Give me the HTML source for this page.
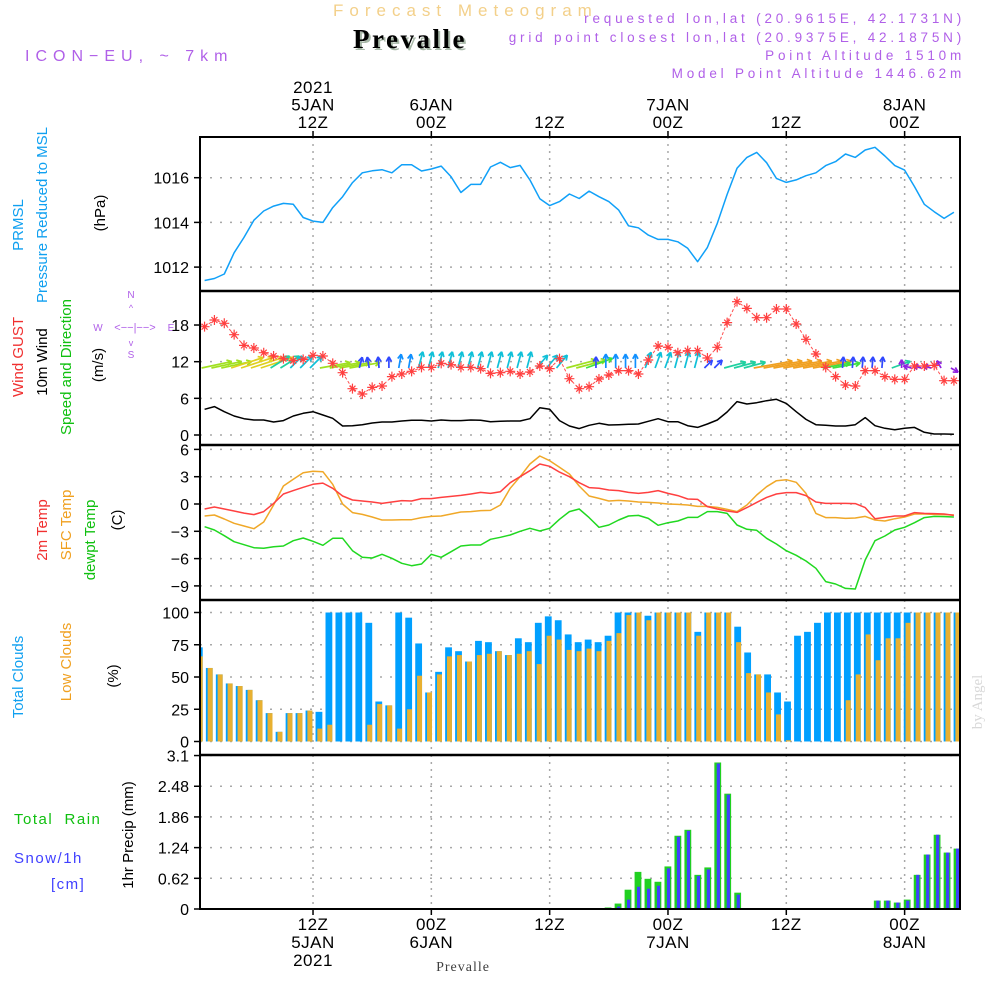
<!DOCTYPE html>
<html><head><meta charset="utf-8"><title>Forecast Meteogram Prevalle</title>
<style>
html,body{margin:0;padding:0;background:#fff;}
svg{display:block;font-family:"Liberation Sans",sans-serif;}
</style></head>
<body>
<svg id="chart" width="1000" height="1000" viewBox="0 0 1000 1000" xmlns="http://www.w3.org/2000/svg">
<defs>
<clipPath id="cp1"><rect x="200" y="137" width="760" height="154"/></clipPath>
<clipPath id="cp2"><rect x="200" y="291" width="760" height="154"/></clipPath>
<clipPath id="cp3"><rect x="200" y="445" width="760" height="155"/></clipPath>
<clipPath id="cp4"><rect x="200" y="600" width="760" height="155"/></clipPath>
<clipPath id="cp5"><rect x="200" y="755" width="760" height="154"/></clipPath>
</defs>
<rect x="0" y="0" width="1000" height="1000" fill="#fff"/>
<!-- header -->
<text x="333" y="16" font-size="17" fill="#f3d08a" letter-spacing="6">Forecast Meteogram</text>
<text x="355" y="50" font-size="27" font-weight="bold" font-family="Liberation Serif, serif" fill="#a8b8a8" letter-spacing="2.5">Prevalle</text>
<text x="353" y="48" font-size="27" font-weight="bold" font-family="Liberation Serif, serif" fill="#000" letter-spacing="2.5">Prevalle</text>
<text x="25" y="61" font-size="16" fill="#b060e8" letter-spacing="6">ICON−EU, ~ 7km</text>
<g font-size="13.5" fill="#b060e8" text-anchor="end" letter-spacing="3.8">
<text x="965" y="23">requested lon,lat (20.9615E, 42.1731N)</text>
<text x="965" y="42">grid point closest lon,lat (20.9375E, 42.1875N)</text>
<text x="965" y="60">Point Altitude 1510m</text>
<text x="965" y="78">Model Point Altitude 1446.62m</text>
</g>
<!-- left labels -->
<g font-size="15">
<text transform="translate(23,225) rotate(-90)" text-anchor="middle" fill="#10a0f0">PRMSL</text>
<text transform="translate(47,215) rotate(-90)" text-anchor="middle" fill="#10a0f0">Pressure Reduced to MSL</text>
<text transform="translate(105,213) rotate(-90)" text-anchor="middle" fill="#000">(hPa)</text>
<text transform="translate(23,357) rotate(-90)" text-anchor="middle" fill="#f03030">Wind GUST</text>
<text transform="translate(47,362) rotate(-90)" text-anchor="middle" fill="#000">10m Wind</text>
<text transform="translate(71,367) rotate(-90)" text-anchor="middle" fill="#10c010">Speed and Direction</text>
<text transform="translate(103,365) rotate(-90)" text-anchor="middle" fill="#000">(m/s)</text>
<text transform="translate(47,530) rotate(-90)" text-anchor="middle" fill="#f03030">2m Temp</text>
<text transform="translate(71,525) rotate(-90)" text-anchor="middle" fill="#f0a020">SFC Temp</text>
<text transform="translate(95,540) rotate(-90)" text-anchor="middle" fill="#10c010">dewpt Temp</text>
<text transform="translate(122,520) rotate(-90)" text-anchor="middle" fill="#000">(C)</text>
<text transform="translate(23,677) rotate(-90)" text-anchor="middle" fill="#10a0f0">Total Clouds</text>
<text transform="translate(71,662) rotate(-90)" text-anchor="middle" fill="#f0a020">Low Clouds</text>
<text transform="translate(118,676) rotate(-90)" text-anchor="middle" fill="#000">(%)</text>
<text transform="translate(133,835) rotate(-90)" text-anchor="middle" fill="#000">1hr Precip (mm)</text>
</g>
<text x="14" y="824" font-size="15" fill="#10c010" letter-spacing="1.5" xml:space="preserve">Total  Rain</text>
<text x="14" y="863" font-size="15" fill="#4040ff" letter-spacing="1.5">Snow/1h</text>
<text x="51" y="889" font-size="15" fill="#4040ff" letter-spacing="1.5">[cm]</text>
<!-- compass -->
<g fill="#b060e8" stroke="none" font-size="10">
<text x="131" y="298" text-anchor="middle">N</text>
<text x="131" y="358" text-anchor="middle">S</text>
<text x="98" y="331" text-anchor="middle">W</text>
<text x="171" y="331" text-anchor="middle">E</text>
<text x="135" y="331" text-anchor="middle" font-size="11">&lt;−−|−−&gt;</text>
<text x="131" y="311" text-anchor="middle" font-size="9">^</text>
<text x="131" y="346" text-anchor="middle" font-size="9">v</text>
</g>
<text transform="translate(982,702) rotate(-90)" text-anchor="middle" font-size="15" font-family="Liberation Serif, serif" fill="#d8d8d8">by Angel</text>
<text x="463" y="971" text-anchor="middle" font-size="14" font-family="Liberation Serif, serif" fill="#404040" letter-spacing="1">Prevalle</text>
<g id="layer"></g>
</svg>
<script>
// ---- data (hourly, index k = forecast hour 1..77) ----
const pressure = [1011.40,1011.49,1011.69,1012.64,1013.33,1014.10,1014.51,1014.73,1014.85,1014.81,1014.22,1014.06,1014.0,1014.66,1015.15,1015.78,1016.22,1016.31,1016.36,1016.22,1016.58,1016.58,1016.30,1016.39,1016.52,1016.04,1015.34,1015.70,1015.70,1016.48,1016.69,1016.45,1016.55,1015.90,1015.06,1014.75,1014.93,1015.27,1015.07,1015.40,
1015.15,1014.93,1014.55,1013.85,1013.76,1013.43,1013.24,1013.24,1013.13,1012.84,1012.24,1012.88,1013.96,1015.25,1016.42,1016.91,1017.13,1016.67,1015.97,1015.79,1015.90,1016.09,1016.22,1016.54,1016.72,1017.06,1016.91,1017.24,1017.36,1016.97,1016.54,1016.34,1015.60,1014.81,1014.48,1014.18,1014.45];
const wind10 = [4.2,4.64,3.82,3.11,2.67,2.45,2.45,2.13,2.35,3.11,3.55,3.82,3.27,2.73,1.47,1.53,1.69,1.96,2.13,2.13,2.29,2.4,2.4,2.29,2.45,2.35,2.35,2.45,2.4,2.18,2.24,2.29,2.29,2.67,4.47,4.2,2.35,1.47,1.04,1.58,
1.91,1.64,1.69,1.75,1.8,2.24,2.67,2.18,2.18,1.53,1.25,1.8,2.45,3.76,5.46,5.07,5.29,5.62,5.84,5.18,3.82,2.56,1.69,1.58,1.47,1.47,1.69,2.84,1.53,1.09,0.87,1.09,1.25,0.44,0.16,0.16,0.11];
const gust = [17.73,18.82,18.28,16.42,14.67,14.24,13.47,12.93,12.49,12.16,12.38,13.04,12.93,11.73,10.2,7.58,6.71,7.8,8.02,9.55,9.98,10.42,11.07,11.07,11.73,11.51,11.07,11.07,10.86,10.09,10.2,10.42,9.98,10.31,11.29,10.86,12.49,9.22,7.58,7.91,
9.17,9.82,10.53,10.53,9.98,12.27,14.57,14.35,13.47,13.8,13.8,12.6,14.35,18.39,21.82,20.73,19.2,19.2,20.62,20.62,18.17,15.66,13.26,11.07,9.55,8.18,8.02,10.53,10.53,9.55,9.11,9.11,11.29,11.29,11.4,8.89,8.89];
const windDir = [78,78,78,72,72,72,72,58,58,45,45,45,80,80,80,80,15,-10,-5,0,10,10,15,15,15,15,15,15,15,15,15,15,15,15,40,40,40,75,75,70,
0,0,0,0,0,20,20,20,15,15,15,45,45,75,75,75,80,80,80,80,80,80,80,80,80,5,5,5,5,5,70,0,-75,-75,-75,-30,120];
const windLen = [11,11,11,12,12,12,12,8,8,6,6,6,11,11,11,11,4,4,4,4,5,5,6,6,6,6,6,6,6,6,6,6,6,6,6,6,6,11,11,10,
4,5,5,5,5,6,6,6,6,6,6,4,4,8,8,8,14,14,14,14,14,14,14,10,10,4,4,4,4,4,7,3,3,3,3,3,3];
const t2m = [-0.55,-0.33,-0.55,-0.77,-1.0,-1.17,-0.84,0.07,1.1,1.47,1.83,2.16,2.3,1.72,0.88,0.44,0.33,0.22,0.07,0.22,0.37,0.33,0.59,0.59,0.73,0.84,0.95,1.1,1.28,1.17,1.35,2.34,3.0,3.66,4.4,4.14,3.5,3.0,2.34,1.8,
1.72,1.54,1.47,1.28,1.17,1.28,1.47,1.17,0.92,0.55,0.51,-0.29,-0.55,-0.77,-0.92,-0.4,0.18,0.73,1.1,1.25,1.25,0.92,0.22,0.07,0.07,0.07,0.04,-0.4,-1.61,-1.47,-1.32,-1.32,-0.95,-1.03,-1.06,-1.1,-1.25];
const tsfc = [-1.32,-1.21,-1.65,-2.12,-2.42,-2.71,-1.98,-0.11,1.98,2.71,3.44,3.59,3.55,2.16,0,-0.95,-1.14,-1.43,-1.76,-1.76,-1.72,-1.72,-1.5,-1.36,-1.32,-1.1,-0.88,-0.84,-0.73,-0.7,-0.11,1.72,3.0,4.4,5.27,4.76,4.03,3.3,1.98,0.88,
0.62,0.33,0.4,0.33,0.22,0.18,0.11,0,-0.04,-0.11,-0.26,-0.26,-0.37,-0.59,-0.84,-0.11,0.99,1.9,2.56,2.67,2.38,1.17,-1.03,-1.5,-1.5,-1.58,-1.54,-1.36,-1.76,-1.87,-1.61,-1.43,-1.1,-1.1,-1.14,-1.17,-1.21];
const tdew = [-2.49,-2.86,-3.48,-4.14,-4.47,-4.8,-4.87,-4.69,-4.62,-4.03,-3.74,-4.1,-4.54,-3.77,-3.77,-5.13,-5.86,-5.93,-5.53,-5.97,-6.52,-6.78,-6.59,-5.53,-5.86,-5.24,-4.62,-4.51,-4.51,-3.88,-3.66,-3.41,-3.0,-2.67,-2.97,-2.67,-1.68,-0.84,-0.55,-1.5,
-2.56,-2.31,-1.76,-1.32,-1.25,-1.58,-2.34,-2.05,-1.87,-1.47,-1.47,-0.84,-0.84,-1.03,-2.31,-2.78,-2.89,-3.77,-4.4,-5.13,-5.64,-6.26,-7.07,-8.53,-8.79,-9.27,-9.34,-6.15,-4.03,-3.52,-2.86,-2.56,-2.05,-1.5,-1.36,-1.39,-1.43];
const cloudTotal = [73,57,52,45,43,40,32,22,7.5,22, 22,24,23,100,100,100,100,92,31,28, 100,96,76,38,54,73,70,62,78,77, 70,67,80,77,92,97,94,83,77,79, 77,82,100,100,100,97.5,100,100,100,100, 85,100,100,100,89,69,52,52,38,31, 82,85,92,100,100,100,100,100,100,100, 100,100,100,100,100,100,100];
const cloudLow = [66,57,52,45,43,40,32,22,7.5,22, 22,24,10,13,0,0,0,13,29,28, 10,25,51,38,52,66,67,62,67,68, 70,67,68,70,60,82,79,71,70,72, 70,78,84,98,100,94,100,100,100,100, 82,100,100,100,77,53,52,38,21,1, 0,0,0,0,0,32,52,83,63,80, 80,92,100,100,100,100,100];
const rain = [0,0,0,0,0,0,0,0,0,0, 0,0,0,0,0,0,0,0,0,0, 0,0,0,0,0,0,0,0,0,0, 0,0,0,0,0,0,0,0,0,0, 0,0.03,0.11,0.39,0.75,0.61,0.55,0.86,1.48,1.6, 0.69,0.84,2.96,2.33,0.33,0,0,0,0,0, 0,0,0,0,0,0,0,0,0.17,0.17, 0.13,0.19,0.69,1.1,1.5,1.14,1.22];
const snow = [0,0,0,0,0,0,0,0,0,0, 0,0,0,0,0,0,0,0,0,0, 0,0,0,0,0,0,0,0,0,0, 0,0,0,0,0,0,0,0,0,0, 0,0.01,0.05,0.19,0.45,0.41,0.47,0.82,1.46,1.58, 0.67,0.8,2.94,2.31,0.29,0,0,0,0,0, 0,0,0,0,0,0,0,0.01,0.17,0.17, 0.13,0.17,0.69,1.1,1.5,1.14,1.22];
const pressTicks = [1012,1014,1016];
const windTicks = [0,6,12,18];
const tempTicks = [-9,-6,-3,0,3,6];
const cloudTicks = [0,25,50,75,100];
const precipTicks = [0,0.62,1.24,1.86,2.48,3.1];
const timeHours = [12,24,36,48,60,72];
const timeTop = [["2021","5JAN","12Z"],["","6JAN","00Z"],["","","12Z"],["","7JAN","00Z"],["","","12Z"],["","8JAN","00Z"]];
const timeBottom = [["12Z","5JAN","2021"],["00Z","6JAN",""],["12Z","",""],["00Z","7JAN",""],["12Z","",""],["00Z","8JAN",""]];

// ---- axis functions ----
const X0 = 200, X1 = 960;
function xT(h){ return 194.7 + h*9.86; }
function xLine(k){ return xT(k+1); }
function xBar(i){ return 199.3 + i*9.97; }
const yP = v => 177.7 + (1016 - v)*22.35;
const yW = v => 435 - v*6.11;
const yT = v => 504 - v*9.1;
const yC = v => 741.5 - v*1.29;
const yR = v => 909 - v*49.5;

const NS = "http://www.w3.org/2000/svg";
const layer = document.getElementById('layer');
function mk(tag, attrs, parent){
  const e = document.createElementNS(NS, tag);
  for (const k in attrs) e.setAttribute(k, attrs[k]);
  (parent||layer).appendChild(e);
  return e;
}
function group(name, clip){
  const g = mk('g', clip ? {'clip-path':'url(#'+clip+')'} : {});
  
  
  return g;
}

// ---- grids ----
const panels = [
  {name:'pressure', top:137, bot:291, ticks:pressTicks, y:yP, fmt:v=>String(v)},
  {name:'wind', top:291, bot:445, ticks:windTicks, y:yW, fmt:v=>String(v)},
  {name:'temp', top:445, bot:600, ticks:tempTicks, y:yT, fmt:v=>(v<0?'−'+(-v):String(v))},
  {name:'cloud', top:600, bot:755, ticks:cloudTicks, y:yC, fmt:v=>String(v)},
  {name:'precip', top:755, bot:909, ticks:precipTicks, y:yR, fmt:v=>String(v)}
];
panels.forEach(p=>{
  const g = group(p.name+'-grid');
  timeHours.forEach(h=>{
    const l = mk('line',{x1:xT(h),x2:xT(h),y1:p.top,y2:p.bot,stroke:'#a8a8a8','stroke-width':1.5,'stroke-dasharray':'2,5'},g);
    
    
  });
  p.ticks.forEach(v=>{
    const y = p.y(v);
    const l = mk('line',{x1:X0,x2:X1,y1:y,y2:y,stroke:'#a8a8a8','stroke-width':1.5,'stroke-dasharray':'2,8'},g);
    
    
    const t = mk('line',{x1:194,x2:200,y1:y,y2:y,stroke:'#000','stroke-width':1.5},g);
    
    
    const tx = mk('text',{x:189,y:y+6,'font-size':16,'text-anchor':'end',fill:'#000'},g);
    tx.textContent = p.fmt(v);
    
    
  });
});

// ---- clouds ----
const gc = group('cloud-bars','cp4');
cloudTotal.forEach((v,i)=>{
  const x = xBar(i);
  const r = mk('rect',{x:x-3.4,y:yC(v),width:6.8,height:yC(0)-yC(v),fill:'#00a0ff'},gc);
  
  
});
cloudLow.forEach((v,i)=>{
  if (v<=0) return;
  const x = xBar(i);
  const r = mk('rect',{x:x-1.6,y:yC(v),width:5,height:yC(0)-yC(v),fill:'#e8b030'},gc);
  
  
});

// ---- precip ----
const gr = group('precip-bars','cp5');
rain.forEach((v,i)=>{
  if (v<=0) return;
  const x = xBar(i);
  const r = mk('rect',{x:x-3.4,y:yR(v),width:6.8,height:yR(0)-yR(v),fill:'#20d020'},gr);
  
  
});
snow.forEach((v,i)=>{
  if (v<=0) return;
  const x = xBar(i);
  const r = mk('rect',{x:x-1,y:yR(v),width:3.2,height:yR(0)-yR(v),fill:'#4040ff'},gr);
  
  
});

// ---- lines ----
function polyline(arr, yf, color, name, clip, width, dash){
  const g = group(name, clip);
  const pts = arr.map((v,k)=>xLine(k).toFixed(1)+','+yf(v).toFixed(1)).join(' ');
  const a = {points:pts,fill:'none',stroke:color,'stroke-width':width||1.5,'stroke-linejoin':'round'};
  if (dash) a['stroke-dasharray']=dash;
  const pl = mk('polyline',a,g);
  
  
  return g;
}
polyline(pressure, yP, '#10a0f8', 'pressure-line', 'cp1');
polyline(wind10, yW, '#000', 'wind10-line', 'cp2');
polyline(tsfc, yT, '#f0a828', 'tsfc-line', 'cp3');
polyline(t2m, yT, '#ff4040', 't2m-line', 'cp3');
polyline(tdew, yT, '#20d820', 'dewpt-line', 'cp3');

// wind arrows
function arrowColor(len){
  if (len<=3) return '#9020e0';
  if (len<=4) return '#3048ff';
  if (len<=5) return '#1090ff';
  if (len<=6) return '#10c0d8';
  if (len<=8) return '#20d0a0';
  if (len<=10) return '#40e040';
  if (len<=11) return '#a0e020';
  if (len<=12) return '#e0d020';
  return '#f0a020';
}
const ga = group('wind-arrows','cp2');
windDir.forEach((d,k)=>{
  const L = windLen[k]*2.8;
  const a = d*Math.PI/180;
  const x0 = xLine(k)-3, y0 = 368;
  const x1 = x0 + L*Math.sin(a), y1 = y0 - L*Math.cos(a);
  const c = arrowColor(windLen[k]);
  const ag = mk('g',{stroke:c,'stroke-width':1.7,fill:'none'},ga);
  
  
  mk('line',{x1:x0,y1:y0,x2:x1,y2:y1},ag);
  const hl = 5.5;
  [a+Math.PI-0.5, a+Math.PI+0.5].forEach(b=>{
    mk('line',{x1:x1,y1:y1,x2:x1+hl*Math.sin(b),y2:y1-hl*Math.cos(b)},ag);
  });
});

// gust line with cross markers
const gg = polyline(gust, yW, '#ff5050', 'gust-line', 'cp2', 1, '3,2');
gust.forEach((v,k)=>{
  const x = xLine(k), y = yW(v);
  const m = mk('path',{d:`M${x-5},${y}H${x+5}M${x},${y-5}V${y+5}M${x-3},${y-3}L${x+3},${y+3}M${x-3},${y+3}L${x+3},${y-3}`,stroke:'#ff4040','stroke-width':1.2},gg);
  
  
});

// ---- frame ----
const gf = group('plot-frame');
const fr = mk('rect',{x:X0,y:137,width:X1-X0,height:772,fill:'none',stroke:'#000','stroke-width':2},gf);


[291,445,600,755].forEach(y=>{
  const l = mk('line',{x1:X0,x2:X1,y1:y,y2:y,stroke:'#000','stroke-width':2.5},gf);
  
  
});

// ---- time axis labels ----
const gt = group('time-axis');
timeHours.forEach((h,i)=>{
  const x = xT(h);
  mk('line',{x1:x,x2:x,y1:131,y2:137,stroke:'#000','stroke-width':1.5},gt);
  mk('line',{x1:x,x2:x,y1:909,y2:915,stroke:'#000','stroke-width':1.5},gt);
  timeTop[i].forEach((s,j)=>{
    if (!s) return;
    const t = mk('text',{x:x,y:93+j*17.5,'font-size':17,'text-anchor':'middle',fill:'#000','letter-spacing':0.5},gt);
    t.textContent = s;
    
    
  });
  timeBottom[i].forEach((s,j)=>{
    if (!s) return;
    const t = mk('text',{x:x,y:930+j*18,'font-size':17,'text-anchor':'middle',fill:'#000','letter-spacing':0.5},gt);
    t.textContent = s;
    
    
  });
});
</script>
</body></html>
